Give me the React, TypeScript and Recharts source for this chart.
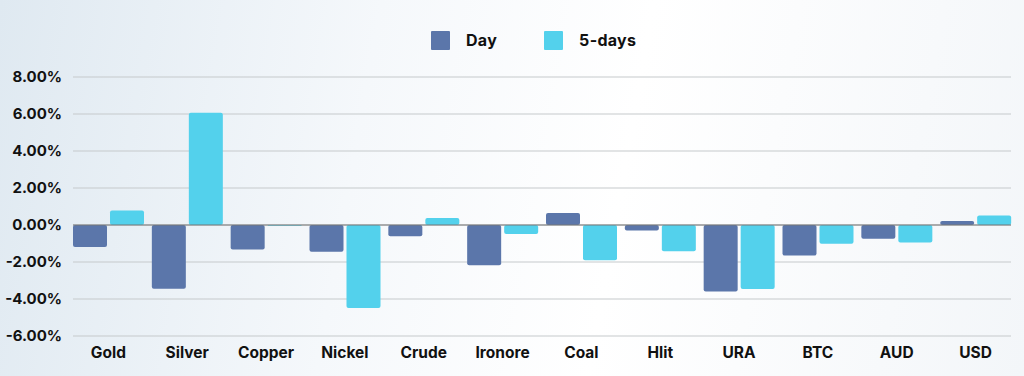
import { BarChart, Bar, XAxis, YAxis, CartesianGrid, ReferenceLine } from "recharts";

const categories = ["Gold", "Silver", "Copper", "Nickel", "Crude", "Ironore", "Coal", "Hlit", "URA", "BTC", "AUD", "USD"];
const dayValues = [-1.19, -3.44, -1.33, -1.44, -0.61, -2.18, 0.65, -0.3, -3.6, -1.65, -0.74, 0.22];
const fiveDayValues = [0.78, 6.07, -0.04, -4.48, 0.38, -0.49, -1.91, -1.42, -3.46, -1.01, -0.95, 0.51];
const yTicks = [-6, -4, -2, 0, 2, 4, 6, 8];
const seriesNames = ["Day", "5-days"];

const DAY_COLOR = "#5b76aa";
const FIVE_COLOR = "#53d1ec";
const FONT = "Inter, 'Open Sans', sans-serif";

const data = categories.map((name, i) => ({ name, day: dayValues[i], five: fiveDayValues[i] }));

if (typeof document !== "undefined") document.body.style.margin = "0";

function TopLegend() {
  const colors = [DAY_COLOR, FIVE_COLOR];
  return (
    <div style={{ position: "absolute", top: 30, left: 431, display: "flex", fontFamily: FONT }}>
      {seriesNames.map((label, i) => (
        <div key={label} style={{ display: "flex", alignItems: "center", marginRight: 47 }}>
          <span style={{ width: 19, height: 19, background: colors[i], display: "inline-block", marginRight: 16, borderRadius: 1 }} />
          <span style={{ fontSize: 16, fontWeight: 700, color: "#111", letterSpacing: 0.3 }}>{label}</span>
        </div>
      ))}
    </div>
  );
}

export default function App() {
  return (
    <div
      style={{
        position: "relative",
        width: 1024,
        height: 376,
        background: "linear-gradient(100deg, #dfe9f1 0%, #f5f8fb 35%, #ffffff 60%, #f3f6f9 100%)",
      }}
    >
      <TopLegend />
      <BarChart
        width={1024}
        height={376}
        data={data}
        margin={{ top: 77, right: 13, bottom: 10, left: 0 }}
        barCategoryGap={4}
        barGap={3}
      >
        <CartesianGrid vertical={false} stroke="#c6c9cc" strokeWidth={1.2} />
        <XAxis
          dataKey="name"
          height={30}
          axisLine={false}
          tickLine={false}
          tickSize={0}
          tickMargin={11}
          padding={{ left: -4, right: -4 }}
          tick={{ fill: "#111", fontSize: 15.5, fontWeight: 700, fontFamily: FONT }}
          interval={0}
        />
        <YAxis
          width={73}
          domain={[-6, 8]}
          ticks={yTicks}
          axisLine={false}
          tickLine={false}
          tickSize={0}
          tickMargin={11}
          tickFormatter={(v: number) => `${v.toFixed(2)}%`}
          tick={{ fill: "#111", fontSize: 15, fontWeight: 700, fontFamily: FONT }}
        />
        <ReferenceLine y={0} stroke="#777" strokeWidth={1.2} />
        <Bar dataKey="day" name={seriesNames[0]} fill={DAY_COLOR} radius={2} isAnimationActive={false} />
        <Bar dataKey="five" name={seriesNames[1]} fill={FIVE_COLOR} radius={2} isAnimationActive={false} />
      </BarChart>
    </div>
  );
}
